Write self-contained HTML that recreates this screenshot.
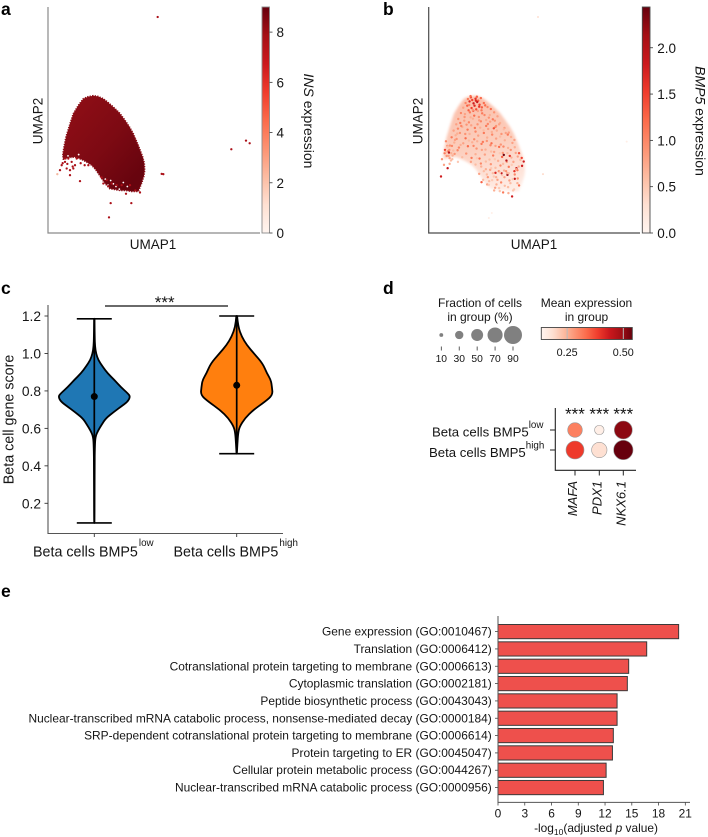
<!DOCTYPE html>
<html lang="en">
<head>
<meta charset="utf-8">
<title>BMP5 beta cell figure</title>
<style>
html,body{margin:0;padding:0;background:#fff;}
svg{display:block;font-family:"Liberation Sans",Arial,sans-serif;fill:#111;}
text{fill:#151515;}
.let{font-size:17.5px;font-weight:bold;fill:#000;}
.t14{font-size:14px;}
.t143{font-size:14.3px;}
.t135{font-size:13.5px;}
.t13{font-size:13.2px;}
.t12{font-size:12px;}
.t11{font-size:11.9px;}
.sup{font-size:9.8px;}
</style>
</head>
<body>
<svg id="fig" width="708" height="837" viewBox="0 0 708 837" xmlns="http://www.w3.org/2000/svg">
  <defs>
    <linearGradient id="gradBlob" x1="0.1" y1="0.05" x2="0.9" y2="0.85">
      <stop offset="0" stop-color="#8f0e16"/>
      <stop offset="0.55" stop-color="#7d0a13"/>
      <stop offset="1" stop-color="#67040e"/>
    </linearGradient>
    <linearGradient id="gradWash" x1="0.4" y1="0" x2="0.6" y2="1">
      <stop offset="0" stop-color="#fbb9a2"/>
      <stop offset="0.5" stop-color="#fcc9b6"/>
      <stop offset="1" stop-color="#feeae2"/>
    </linearGradient>
    <filter id="blurWash" x="-10%" y="-10%" width="120%" height="120%"><feGaussianBlur stdDeviation="1.2"/></filter>
  </defs>

  <text class="let" x="1" y="15">a</text>
  <text class="let" x="383" y="15">b</text>
  <text class="let" x="1" y="294">c</text>
  <text class="let" x="383" y="294">d</text>
  <text class="let" x="1" y="597">e</text>

  <g id="panelA">
    <text class="t135" x="153" y="249" text-anchor="middle">UMAP1</text>
    <text class="t135" transform="translate(42.5,121) rotate(-90)" text-anchor="middle">UMAP2</text>
    <text class="t14" transform="translate(304,121) rotate(90)" text-anchor="middle"><tspan font-style="italic">INS</tspan> expression</text>
  </g>
  <g id="panelB">
    <text class="t135" x="534" y="249" text-anchor="middle">UMAP1</text>
    <text class="t135" transform="translate(422.5,121) rotate(-90)" text-anchor="middle">UMAP2</text>
    <text class="t14" transform="translate(695.5,121) rotate(90)" text-anchor="middle"><tspan font-style="italic">BMP5</tspan> expression</text>
  </g>
  <g id="panelC">
    <text class="t143" transform="translate(13.5,419.5) rotate(-90)" text-anchor="middle">Beta cell gene score</text>
    <text class="t143" x="33" y="556.5">Beta cells BMP5<tspan class="sup" dx="1" dy="-10.5">low</tspan></text>
    <text class="t143" x="173.5" y="556.5">Beta cells BMP5<tspan class="sup" dx="1" dy="-10.5">high</tspan></text>
    <text x="164.7" y="307.8" font-size="17" text-anchor="middle">***</text>
    <line x1="105" y1="306" x2="228" y2="306" stroke="#111" stroke-width="1.3"/>
  </g>
  <g id="panelD">
    <text class="t12" x="480" y="307" text-anchor="middle">Fraction of cells</text>
    <text class="t12" x="480" y="321" text-anchor="middle">in group (%)</text>
    <text class="t12" x="586.5" y="307" text-anchor="middle">Mean expression</text>
    <text class="t12" x="586.5" y="321" text-anchor="middle">in group</text>
    <text class="t13" x="432" y="436.5">Beta cells BMP5<tspan class="sup" dx="0" dy="-8.5">low</tspan></text>
    <text class="t13" x="429" y="457">Beta cells BMP5<tspan class="sup" dx="0" dy="-8.5">high</tspan></text>
  </g>
  <g id="panelE">
    <text class="t11" x="596" y="832" text-anchor="middle">-log<tspan font-size="8.5" dy="3">10</tspan><tspan dy="-3">(adjusted </tspan><tspan font-style="italic">p</tspan> value)</text>
  </g>
</svg>

<script>
/* ---------- Panels a, b: UMAP data (UMAP1, UMAP2 in plot units) ---------- */
const umapOutlineU1 = [136,120,106,91,76,66,54,48,44,46,62,81,94,106,118,131,142,151,161,171,186,200,216,234,251,271,281,288,290,289,284,271,256,244,231,214,196,180,166,150];
const umapOutlineU2 = [413,410,404,384,359,329,289,259,234,222,226,229,224,219,212,204,192,179,164,149,133,131,128,128,125,125,150,172,189,210,229,264,299,320,339,362,379,393,404,411];
const umapOutlierU1 = [329,346,341,550,594,605,96,188,183,250,28,36,51,61,71,56,66,81,41,66,76,51,86,121,161,176,191,206,221,246,166,181,44,58,74,98,110,276,262,234];
const umapOutlierU2 = [650,177,178,252,278,270,156,90,47,90,177,189,214,224,214,194,189,204,204,174,194,224,224,204,167,159,149,144,144,144,149,141,210,208,200,210,204,122,128,118];
const umapGapU1 = [66,84,72,94,60,196,204,188,214,226,238,180,172,92,54];
const umapGapU2 = [224,222,208,210,232,148,140,158,132,152,140,144,162,236,216];

const bmp5CellU1 = [
118,127,141,149,157,111,123,135,146,153,
166,177,104,116,129,143,159,187,197,97,
109,124,137,151,168,181,193,207,89,83,
95,107,121,133,147,157,173,185,201,215,
75,88,101,117,128,141,155,166,179,191,
205,219,228,69,81,94,111,123,137,149,
163,176,189,203,217,229,241,64,77,91,
104,118,131,144,159,171,186,197,212,223,
239,252,59,72,87,101,113,129,141,153,
169,183,194,209,221,235,249,262,54,67,
127,141,157,172,187,201,216,227,241,255,
267,152,166,178,193,207,221,233,246,259,
271,164,176,191,204,218,229,243,257,272,
197,212,224,239,268,181,200,214,240,254,
40,48,56,63,71,46,78,88,52,60,
226,234,264,259,237,219,251,37,57,61,
49,286,281,159,201,258,244,280,272,196,
131,138,145,152,134,126,160,142,120,170,
122,133,148,161,173,108,98,86,79,70,
184,199,212,226,238,248,258,62,57,51,
114,126,139,152,165,178,190,203,215,232,
96,84,74,68,63,110,121,135,146,160,
175,188,201,214,225,237,247,259,268,276,
145,158,172,185,199,211,224,236,250,263,
175,188,203,215,228,241,253,267,182,196];
const bmp5CellU2 = [
403,408,404,398,406,391,396,390,394,386,
391,379,377,383,376,372,369,373,363,361,
358,363,353,349,355,347,342,351,343,327,
331,338,333,344,327,336,322,335,319,331,
308,314,319,311,324,305,317,301,313,296,
308,298,316,288,294,301,285,298,282,293,
274,287,270,284,266,279,302,263,272,257,
270,261,273,254,268,251,264,244,259,241,
256,271,246,233,249,228,239,226,237,224,
236,221,233,217,229,214,227,241,232,218,
214,206,209,192,207,196,203,188,199,214,
189,178,186,168,180,160,174,186,150,176,
200,160,146,159,146,152,142,158,131,143,
128,135,122,138,164,145,136,126,120,128,
222,240,262,208,222,205,238,214,276,232,
235,218,195,163,175,180,110,170,195,242,
250,215,202,153,181,186,232,226,240,315,
400,383,410,380,368,412,378,398,369,384,
385,370,367,360,340,349,322,299,280,262,
355,338,327,312,296,289,280,250,260,244,
326,348,316,339,309,328,304,322,290,301,
265,283,248,240,225,298,278,262,276,250,
277,245,262,240,260,240,250,258,230,220,
225,200,215,190,222,186,208,180,205,192,
176,195,168,182,168,180,162,150,156,170];
const bmp5CellExpr = [
1.1,1.4,1.6,1.3,1.2,1.0,1.7,1.8,1.9,1.5,
1.2,1.0,.8,1.3,1.5,1.4,1.1,1.2,.9,1.0,
.8,1.1,1.2,.9,1.0,.9,1.1,.8,.9,.8,
1.1,.8,1.0,.7,.9,1.0,1.1,.8,1.0,.7,
.8,1.0,.7,1.1,.8,1.0,.7,1.1,.8,1.0,
.7,.9,.8,1.1,.7,.9,1.2,.7,1.0,.8,
1.1,.7,1.2,.8,.9,.7,.8,.9,.7,1.0,
.8,1.2,.7,.9,1.1,.7,1.0,.8,1.2,.9,
.7,.8,1.1,.7,1.0,.6,.9,1.1,.7,1.2,
.8,.6,1.1,.7,1.3,.8,.7,.8,.9,.6,
.8,.6,1.0,.7,.9,.6,1.0,.7,1.1,.8,
1.1,.8,.6,.9,.6,.8,.5,.9,.6,1.0,
.7,.6,.8,.5,.7,1.0,.6,.8,.5,1.2,
.7,.5,1.1,.6,.9,.5,.8,.5,.7,.5,
.9,1.1,1.0,.7,.6,.8,.9,.5,1.0,.8,
2.4,2.0,1.9,1.9,2.2,1.9,1.8,1.8,1.9,2.0,
1.5,1.8,1.8,1.3,1.7,1.6,1.6,1.5,1.4,1.4,
1.5,1.7,1.3,1.6,1.4,1.2,1.3,1.7,1.3,1.2,
1.0,.9,.8,1.1,.7,.9,1.0,.7,.8,1.0,
.7,.9,.8,.6,1.1,.7,.8,.9,.6,.7,
.9,.7,1.1,.8,.6,1.0,.7,.9,.6,.8,
.7,.9,.6,.7,.8,.9,.6,1.0,.7,.8,
.9,.6,.8,.5,1.0,.6,.9,.7,.8,.6,
.5,.7,.6,.8,.5,.9,.6,.7,.5,.8,
.6,.5,.7,.5,.8,.6,.5,.7,.6,.5];
const bmp5FaintU1 = [329,344,596,181,190];
const bmp5FaintU2 = [650,177,275,45,60];
const bmp5FaintExpr = [.3,.35,.1,.12,.08];

const insTicks = [0,2,4,6,8];
const bmp5Ticks = [0,0.5,1,1.5,2];
const bmp5TickLabels = ['0.0','0.5','1.0','1.5','2.0'];

/* ---------- Panel c: violin data ---------- */
const violinGroups = ['low','high'];
const violinScoreLow = [1.185,1.09,1.036,1.0,.965,.93,.894,.858,.82,.787,.77,.743,.716,.69,.654,.618,.59,.556,.5,.4,.095];
const violinDensityLow = [.005,.01,.02,.05,.11,.23,.37,.56,.74,.93,1,.93,.74,.56,.32,.2,.11,.03,.015,.008,.005];
const violinScoreHigh = [1.2,1.143,1.09,1.045,1.0,.947,.894,.858,.82,.778,.743,.698,.654,.609,.574,.52,.465];
const violinDensityHigh = [.01,.04,.14,.28,.48,.72,.84,.95,.98,1,.79,.46,.23,.08,.04,.02,.005];
const violinMean = [0.77,0.83];
const violinMin = [0.095,0.465];
const violinMax = [1.185,1.2];
const scoreTicks = [0.2,0.4,0.6,0.8,1.0,1.2];

/* ---------- Panel d: dot plot data ---------- */
const dotGenes = ['MAFA','PDX1','NKX6.1'];
const dotRows = ['low','high'];
const dotFractionLow = [67,36,90];
const dotFractionHigh = [90,72,100];
const dotExprLow = [.31,.15,.51];
const dotExprHigh = [.39,.185,.54];
const sizeLegendValues = [10,30,50,70,90];
const colorLegendTicks = [0.25,0.5];
const colorLegendLabels = ['0.25','0.50'];

/* ---------- Panel e: enrichment data ---------- */
const goTerms = ['Gene expression (GO:0010467)','Translation (GO:0006412)','Cotranslational protein targeting to membrane (GO:0006613)','Cytoplasmic translation (GO:0002181)','Peptide biosynthetic process (GO:0043043)','Nuclear-transcribed mRNA catabolic process, nonsense-mediated decay (GO:0000184)','SRP-dependent cotranslational protein targeting to membrane (GO:0006614)','Protein targeting to ER (GO:0045047)','Cellular protein metabolic process (GO:0044267)','Nuclear-transcribed mRNA catabolic process (GO:0000956)'];
const goValues = [20.25,16.67,14.65,14.5,13.35,13.35,12.93,12.83,12.12,11.82];
const goTicks = [0,3,6,9,12,15,18,21];

/* ---------- helpers ---------- */
const NS = 'http://www.w3.org/2000/svg';
const fig = document.getElementById('fig');
function mk(tag, parent, attrs, txt) {
  const el = document.createElementNS(NS, tag);
  for (const k in attrs) el.setAttribute(k, attrs[k]);
  if (txt !== undefined) el.textContent = txt;
  parent.appendChild(el);
  return el;
}
const redsStops = ['#fff5f0','#fee0d2','#fcbba1','#fc9272','#fb6a4a','#ef3b2c','#cb181d','#a50f15','#67000d'];
function reds(t) {
  t = Math.max(0, Math.min(1, t || 0));
  const p = t * (redsStops.length - 1), i = Math.min(Math.floor(p), redsStops.length - 2), f = p - i;
  const c = s => [1,3,5].map(j => parseInt(s.substr(j,2),16));
  const a = c(redsStops[i]), b = c(redsStops[i+1]);
  return 'rgb(' + a.map((v,j) => Math.round(v + (b[j]-v)*f)).join(',') + ')';
}
function addGradient(id, horizontal) {
  const defs = fig.querySelector('defs');
  const g = mk('linearGradient', defs, {id:id, x1:0, y1:horizontal?0:1, x2:horizontal?1:0, y2:0});
  redsStops.forEach((s,i) => mk('stop', g, {offset:i/(redsStops.length-1), 'stop-color':s}));
}
addGradient('gradReds', false);
addGradient('gradRedsH', true);

/* ---------- UMAP panels ---------- */
function umapPanel(cfg) {
  const g = document.getElementById(cfg.group);
  const sx = u => cfg.left + u / 636 * cfg.width;
  const sy = v => 233 - v / 680 * 226;
  const outline = (us, vs) => us.map((u,i) => (i?'L':'M') + sx(u).toFixed(1) + ' ' + sy(vs[i]).toFixed(1)).join('') + 'Z';

  const spines = mk('path', g, {d:'M'+cfg.left+' 7V233H'+(cfg.left+cfg.width), fill:'none', stroke:cfg.spine, 'stroke-width':1.2});
  
  

  cfg.draw(g, sx, sy, outline);

  const cbX = cfg.cbLeft, cbW = cfg.cbWidth;
  const bar = mk('rect', g, {x:cbX, y:7, width:cbW, height:226, fill:'url(#gradReds)', stroke:cfg.spine, 'stroke-width':0.9});
  
  
  const cy = v => 233 - v / cfg.max * 226;
  cfg.ticks.forEach((v,i) => {
    const tick = mk('line', g, {x1:cbX+cbW, x2:cbX+cbW+3, y1:cy(v), y2:cy(v), stroke:'#333', 'stroke-width':0.8});
    
    
    const lab = mk('text', g, {x:cfg.labelX, y:cy(v)+5, 'font-size':13.5}, cfg.labels[i]);
    
    
  });
}

umapPanel({
  group:'panelA', left:48, width:212, spine:'#8a8a8a', cbLeft:262, cbWidth:7.5, max:9, labelX:276.5,
  ticks:insTicks, labels:insTicks.map(String),
  draw:function(g, sx, sy, path){
    const blob = mk('path', g, {d:path(umapOutlineU1, umapOutlineU2), fill:'url(#gradBlob)', stroke:'#8a0b14', 'stroke-width':1.6, 'stroke-linejoin':'round', 'stroke-dasharray':'1.2 1.3'});
    
    
    umapGapU1.forEach((u,i) => {
      const gap = mk('circle', g, {cx:sx(u), cy:sy(umapGapU2[i]), r:0.9, fill:'#fff'});
      
      
    });
    umapOutlierU1.forEach((u,i) => {
      const c = mk('circle', g, {cx:sx(u), cy:sy(umapOutlierU2[i]), r:1.15, fill:i===10?'#f4b8a0':'#ab1018'});
      
      
    });
  }
});

umapPanel({
  group:'panelB', left:428.7, width:211.3, spine:'#4a4a4a', cbLeft:642.3, cbWidth:7.7, max:2.44, labelX:657.3,
  ticks:bmp5Ticks, labels:bmp5TickLabels,
  draw:function(g, sx, sy, path){
    const wash = mk('path', g, {d:path(umapOutlineU1, umapOutlineU2), fill:'url(#gradWash)', filter:'url(#blurWash)', opacity:0.9});
    
    
    bmp5FaintU1.forEach((u,i) => {
      const c = mk('circle', g, {cx:sx(u), cy:sy(bmp5FaintU2[i]), r:1, fill:reds(bmp5FaintExpr[i]/2.44)});
      
      
    });
    bmp5CellU1.forEach((u,i) => {
      const c = mk('circle', g, {cx:sx(u), cy:sy(bmp5CellU2[i]), r:1.2, fill:reds(bmp5CellExpr[i]/2.44)});
      
      
    });
  }
});

/* ---------- Violin panel ---------- */
(function(){
  const g = document.getElementById('panelC');
  const sy = v => 316 + (1.2 - v) * 187.3;
  const xPos = [94.3, 236.7];
  const maxHalf = 36;
  const colors = ['#1f77b4','#ff7f0e'];
  const scores = [violinScoreLow, violinScoreHigh];
  const dens = [violinDensityLow, violinDensityHigh];

  const axes = mk('path', g, {d:'M48 305V533.5H283', fill:'none', stroke:'#555', 'stroke-width':1.1});
  
  

  scoreTicks.forEach(v => {
    const t = mk('line', g, {x1:44.5, x2:48, y1:sy(v), y2:sy(v), stroke:'#333', 'stroke-width':0.9});
    
    
    const l = mk('text', g, {x:41, y:sy(v)+5, 'text-anchor':'end', 'font-size':13.8}, v.toFixed(1));
    
    
  });

  violinGroups.forEach((name,k) => {
    const cx = xPos[k];
    const tick = mk('line', g, {x1:cx, x2:cx, y1:533.5, y2:537, stroke:'#333', 'stroke-width':0.9});
    
    

    const right = scores[k].map((s,i) => [cx + dens[k][i]*maxHalf, sy(s)]);
    const left = scores[k].map((s,i) => [cx - dens[k][i]*maxHalf, sy(s)]).reverse();
    const pts = right.concat(left);
    let d = 'M' + pts[0][0].toFixed(2) + ' ' + pts[0][1].toFixed(2);
    for (let i = 1; i < pts.length - 1; i++) {
      const mx = (pts[i][0] + pts[i+1][0]) / 2, my = (pts[i][1] + pts[i+1][1]) / 2;
      d += 'Q' + pts[i][0].toFixed(2) + ' ' + pts[i][1].toFixed(2) + ' ' + mx.toFixed(2) + ' ' + my.toFixed(2);
    }
    d += 'L' + pts[pts.length-1][0].toFixed(2) + ' ' + pts[pts.length-1][1].toFixed(2) + 'Z';
    const body = mk('path', g, {d:d, fill:colors[k], stroke:'#000', 'stroke-width':1.8, 'stroke-linejoin':'round'});
    
    

    const stem = mk('line', g, {x1:cx, x2:cx, y1:sy(violinMax[k]), y2:sy(violinMin[k]), stroke:'#000', 'stroke-width':1.7});
    
    

    [violinMax[k], violinMin[k]].forEach(v => {
      const cap = mk('line', g, {x1:cx-17.5, x2:cx+17.5, y1:sy(v), y2:sy(v), stroke:'#000', 'stroke-width':1.6});
      
      
    });

    const mean = mk('circle', g, {cx:cx, cy:sy(violinMean[k]), r:3.5, fill:'#000'});
    
    
  });
})();

/* ---------- Dot plot panel ---------- */
(function(){
  const g = document.getElementById('panelD');
  const size = f => 9 * Math.pow(f / 90, 0.7);
  const legendX = f => 441.3 + (f - 10) / 80 * 71.7;
  sizeLegendValues.forEach(f => {
    const c = mk('circle', g, {cx:legendX(f), cy:335, r:size(f), fill:'#808080'});
    
    
    const t = mk('line', g, {x1:legendX(f), x2:legendX(f), y1:346.5, y2:350.5, stroke:'#333', 'stroke-width':0.8});
    
    
    const l = mk('text', g, {x:legendX(f), y:362, 'text-anchor':'middle', 'font-size':10.3}, String(f));
    
    
  });

  const exprMin = 0.135, exprMax = 0.54;
  const cx = v => 541.3 + (v - exprMin) / (exprMax - exprMin) * 91;
  const bar = mk('rect', g, {x:541.3, y:327.5, width:91, height:12, fill:'url(#gradRedsH)', stroke:'#444', 'stroke-width':0.9});
  
  
  colorLegendTicks.forEach((v,i) => {
    const t = mk('line', g, {x1:cx(v), x2:cx(v), y1:328, y2:339, stroke:'#bbb', 'stroke-width':1});
    
    
    const l = mk('text', g, {x:cx(v), y:356, 'text-anchor':'middle', 'font-size':10.8}, colorLegendLabels[i]);
    
    
  });

  const axes = mk('path', g, {d:'M555.3 408V470.3H636', fill:'none', stroke:'#222', 'stroke-width':1.1});
  
  
  const geneX = [575, 599.3, 623.3];
  const rowY = [430, 450];
  const fracs = [dotFractionLow, dotFractionHigh];
  const exprs = [dotExprLow, dotExprHigh];
  rowY.forEach((y,r) => {
    const t = mk('line', g, {x1:550, x2:555.3, y1:y, y2:y, stroke:'#222', 'stroke-width':1});
    
    
    dotGenes.forEach((gene,i) => {
      const c = mk('circle', g, {cx:geneX[i], cy:y, r:size(fracs[r][i]), fill:reds((exprs[r][i]-exprMin)/(exprMax-exprMin)), stroke:'#999', 'stroke-width':0.6});
      
      
    });
  });
  dotGenes.forEach((gene,i) => {
    const t = mk('line', g, {x1:geneX[i], x2:geneX[i], y1:470.3, y2:475.5, stroke:'#222', 'stroke-width':1});
    
    
    const l = mk('text', g, {transform:'translate('+(geneX[i]+2)+',481) rotate(-90)', 'text-anchor':'end', 'font-size':13, 'font-style':'italic'}, gene);
    
    
    const s = mk('text', g, {x:geneX[i], y:419.5, 'text-anchor':'middle', 'font-size':17}, '***');
    
    
  });
})();

/* ---------- Enrichment panel ---------- */
(function(){
  const g = document.getElementById('panelE');
  const sx = v => 498 + v * 8.92;
  const rowY = i => 631.6 + i * 17.33;
  goTerms.forEach((term,i) => {
    const bar = mk('rect', g, {x:sx(0), y:rowY(i)-7.1, width:sx(goValues[i])-sx(0), height:14.2, fill:'#ee504c', stroke:'#3a3a3a', 'stroke-width':1});
    
    
    const t = mk('line', g, {x1:495, x2:498, y1:rowY(i), y2:rowY(i), stroke:'#444', 'stroke-width':0.8});
    
    
    const l = mk('text', g, {x:491.7, y:rowY(i)+4, 'text-anchor':'end', 'font-size':11.93}, term);
    
    
  });
  const axes = mk('path', g, {d:'M498 616V802.4H690', fill:'none', stroke:'#555', 'stroke-width':1});
  
  
  goTicks.forEach(v => {
    const t = mk('line', g, {x1:sx(v), x2:sx(v), y1:802.4, y2:805.5, stroke:'#444', 'stroke-width':0.8});
    
    
    const l = mk('text', g, {x:sx(v), y:817.3, 'text-anchor':'middle', 'font-size':11.93}, String(v));
    
    
  });
})();
</script>
</body>
</html>
